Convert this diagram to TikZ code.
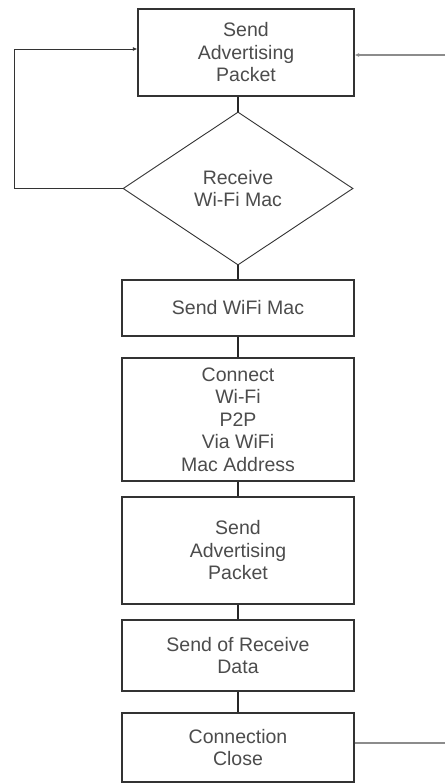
\documentclass[tikz,border=0pt]{standalone}
\usepackage{fontspec}
\setmainfont{Liberation Sans}
\usetikzlibrary{shapes.geometric,arrows.meta}
\begin{document}
\begin{tikzpicture}[x=1pt,y=-1pt,
  box/.style={draw=black!80, line width=1.1pt, fill=white, align=center,
    font=\fontsize{19.5}{22.5}\selectfont, text=black!70, inner sep=0pt},
  dec/.style={diamond, draw=black!80, line width=0.9pt, fill=white, align=center,
    font=\fontsize{19.5}{22.5}\selectfont, text=black!70, inner sep=0pt},
  link/.style={line width=1.8pt, black!85},
  back/.style={line width=0.9pt, black!80, -{Latex[length=4.5pt,width=4pt]}},
  ext/.style={line width=1.3pt, black!45}]
\useasboundingbox (0,0) rectangle (445,783);
\clip (0,0) rectangle (445,783);
\fill[white] (0,0) rectangle (445,783);

\node[box, minimum width=216pt, minimum height=87pt] (a1) at (246,52.5) {Send\\Advertising\\Packet};
\node[dec, minimum width=230pt, minimum height=153pt] (d1) at (238,188.5) {Receive\\Wi-Fi Mac};
\node[box, minimum width=232pt, minimum height=56pt] (b1) at (238,308) {Send WiFi Mac};
\node[box, minimum width=232pt, minimum height=123pt] (b2) at (238,419.5) {Connect\\Wi-Fi\\P2P\\Via WiFi\\Mac Address};
\node[box, minimum width=232pt, minimum height=107pt] (b3) at (238,550.5) {Send\\Advertising\\Packet};
\node[box, minimum width=232pt, minimum height=71pt] (b4) at (238,655.5) {Send of Receive\\Data};
\node[box, minimum width=232pt, minimum height=69pt] (b5) at (238,747.5) {Connection\\Close};

\coordinate (lx) at (14,0);
\coordinate (rin) at (445,55);
\coordinate (rout) at (445,743);

\draw[link] (a1.south -| d1.north) -- (d1.north);
\draw[link] (d1.south) -- (b1.north);
\draw[link] (b1.south) -- (b2.north);
\draw[link] (b2.south) -- (b3.north);
\draw[link] (b3.south) -- (b4.north);
\draw[link] (b4.south) -- (b5.north);

\draw[back] (d1.west) -- (d1.west -| lx) |- (a1.west |- 0,49);
\draw[ext, -{Latex[length=4.5pt,width=4pt]}] (rin) -- (rin -| a1.east);
\draw[ext] (b5.east |- rout) -- (rout);
\end{tikzpicture}
\end{document}
